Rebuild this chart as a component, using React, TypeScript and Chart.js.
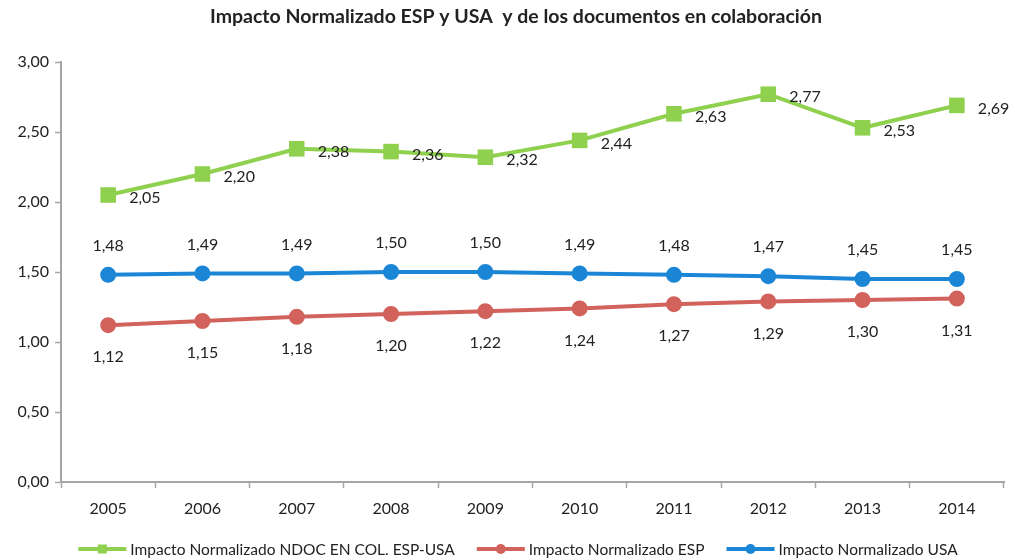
import React, { useEffect, useRef } from "react";
import { Chart, registerables } from "chart.js";
Chart.register(...registerables);

const TITLE = "Impacto Normalizado ESP y USA  y de los documentos en colaboración";
const years = ["2005", "2006", "2007", "2008", "2009", "2010", "2011", "2012", "2013", "2014"];
const colabValues = [2.05, 2.2, 2.38, 2.36, 2.32, 2.44, 2.63, 2.77, 2.53, 2.69];
const espValues = [1.12, 1.15, 1.18, 1.2, 1.22, 1.24, 1.27, 1.29, 1.3, 1.31];
const usaValues = [1.48, 1.49, 1.49, 1.5, 1.5, 1.49, 1.48, 1.47, 1.45, 1.45];
const seriesNames = [
  "Impacto Normalizado NDOC EN COL. ESP-USA",
  "Impacto Normalizado ESP",
  "Impacto Normalizado USA",
];

const GREEN = "#8fd14f";
const RED = "#d2625c";
const BLUE = "#1b86d5";
const FONT = "Lato, 'Open Sans', sans-serif";
const TEXT = "#222222";
const AXIS = "#a6a6a6";

const fmt = (v: number) => v.toFixed(2).replace(".", ",");

const overlayPlugin = {
  id: "overlay",
  afterDatasetsDraw(chart: any) {
    const ctx = chart.ctx;
    ctx.save();
    ctx.fillStyle = TEXT;
    ctx.font = `16px ${FONT}`;
    ctx.textBaseline = "middle";
    // data labels
    chart.data.datasets.forEach((ds: any, di: number) => {
      const meta = chart.getDatasetMeta(di);
      meta.data.forEach((pt: any, i: number) => {
        const txt = fmt(ds.data[i]);
        if (di === 0) {
          ctx.textAlign = "left";
          ctx.fillText(txt, pt.x + 21, pt.y + 3);
        } else if (di === 1) {
          ctx.textAlign = "center";
          ctx.fillText(txt, pt.x, pt.y + 32);
        } else {
          ctx.textAlign = "center";
          ctx.fillText(txt, pt.x, pt.y - 29);
        }
      });
    });
    // title
    ctx.font = `bold 19.5px ${FONT}`;
    ctx.textAlign = "center";
    ctx.fillText(TITLE, 516, 17);
    // legend
    ctx.font = `15.5px ${FONT}`;
    const colors = [GREEN, RED, BLUE];
    const lineLen = 48;
    const gap = 4;
    const spacing = 22;
    const widths = seriesNames.map((n) => lineLen + gap + ctx.measureText(n).width);
    const total = widths.reduce((a, b) => a + b, 0) + spacing * (widths.length - 1);
    let x = 518 - total / 2;
    const y = 549;
    seriesNames.forEach((n, i) => {
      ctx.strokeStyle = colors[i];
      ctx.fillStyle = colors[i];
      ctx.lineWidth = 4;
      ctx.beginPath();
      ctx.moveTo(x, y);
      ctx.lineTo(x + lineLen, y);
      ctx.stroke();
      const cx = x + lineLen / 2;
      if (i === 0) {
        ctx.fillRect(cx - 4.5, y - 4.5, 9, 9);
      } else {
        ctx.beginPath();
        ctx.arc(cx, y, 5, 0, Math.PI * 2);
        ctx.fill();
      }
      ctx.fillStyle = TEXT;
      ctx.textAlign = "left";
      ctx.fillText(n, x + lineLen + gap, y + 1);
      x += widths[i] + spacing;
    });
    ctx.restore();
  },
};

export default function App() {
  const ref = useRef<HTMLCanvasElement | null>(null);
  useEffect(() => {
    if (!ref.current) return;
    const mk = (label: string, data: number[], color: string, rect: boolean) => ({
      label,
      data,
      borderColor: color,
      backgroundColor: color,
      pointBackgroundColor: color,
      pointBorderColor: color,
      borderWidth: 4,
      pointStyle: rect ? "rect" : "circle",
      pointRadius: rect ? 11 : 7,
      pointBorderWidth: rect ? 0 : 2,
      tension: 0,
    });
    const chart = new Chart(ref.current, {
      type: "line",
      data: {
        labels: years,
        datasets: [
          mk(seriesNames[0], colabValues, GREEN, true),
          mk(seriesNames[1], espValues, RED, false),
          mk(seriesNames[2], usaValues, BLUE, false),
        ],
      },
      options: {
        animation: false,
        responsive: false,
        layout: { padding: { left: 8, right: 9, top: 62, bottom: 38 } },
        plugins: {
          legend: { display: false },
          title: { display: false },
          tooltip: { enabled: false },
        },
        scales: {
          x: {
            offset: true,
            grid: {
              offset: true,
              drawOnChartArea: false,
              drawTicks: true,
              tickLength: 6,
              color: AXIS,
              tickWidth: 1.5,
            },
            border: { color: AXIS, width: 2 },
            ticks: { color: TEXT, font: { family: FONT, size: 16 }, padding: 11 },
            afterFit: (s: any) => {
              s.height = 40;
            },
          },
          y: {
            min: 0,
            max: 3,
            grid: {
              drawOnChartArea: false,
              drawTicks: true,
              tickLength: 6,
              color: AXIS,
              tickWidth: 1.5,
            },
            border: { color: AXIS, width: 2 },
            ticks: {
              stepSize: 0.5,
              color: TEXT,
              font: { family: FONT, size: 16 },
              padding: 6,
              callback: (v: any) => fmt(Number(v)),
            },
            afterFit: (s: any) => {
              s.width = 53;
            },
          },
        },
      },
      plugins: [overlayPlugin],
    });
    return () => chart.destroy();
  }, []);
  return (
    <div style={{ position: "fixed", left: 0, top: 0, width: 1015, height: 560, background: "#fff" }}>
      <canvas ref={ref} width={1015} height={560} style={{ display: "block" }} />
    </div>
  );
}
